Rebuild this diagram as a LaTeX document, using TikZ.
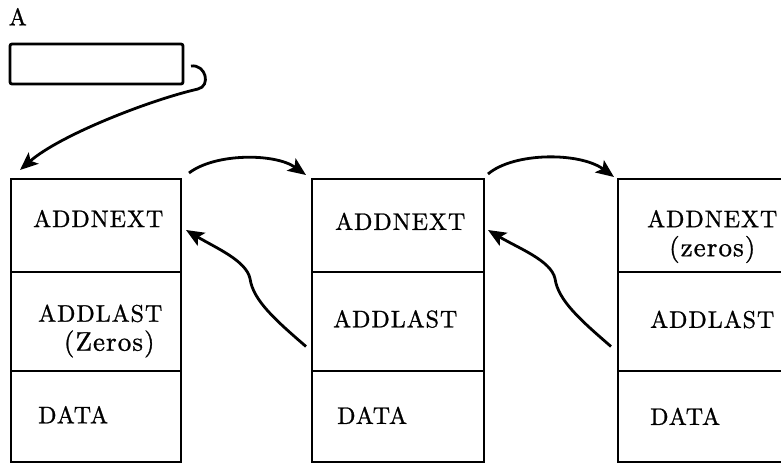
\documentclass[tikz,border=0pt]{standalone}
\usepackage{fontspec}
\newfontfamily\lblfont{lmroman10-regular}[Extension=.otf,LetterSpace=4,FakeBold=1]
\newcommand\parnote[1]{{\fontsize{27}{29}\selectfont #1}}
\usetikzlibrary{arrows.meta,calc}
\begin{document}
\begin{tikzpicture}[x=1pt,y=-1pt,
  ln/.style={line width=2.8pt},
  cell/.style={ln,draw,rectangle,anchor=north west,inner sep=0pt,outer sep=0pt},
  lbl/.style={font=\lblfont\fontsize{24}{29}\selectfont,
              inner sep=0pt,anchor=west,align=center},
  link/.style={ln,-{Stealth[length=18pt,width=15pt,inset=4pt]}}]
\clip (0,0) rectangle (781,463);

% pointer A
\node[lbl,anchor=center] (lblA) at (17.8,16.7) {A};
\node[cell,rounded corners=2pt,minimum width=173pt,minimum height=40pt] (ptr) at (10,44) {};

% record 1
\node[cell,minimum width=170pt,minimum height=93pt] (n1a) at (11,179) {};
\node[cell,minimum width=170pt,minimum height=99pt] (n1b) at (11,272) {};
\node[cell,minimum width=170pt,minimum height=91pt] (n1c) at (11,371) {};
% record 2
\node[cell,minimum width=172pt,minimum height=93pt] (n2a) at (312,179) {};
\node[cell,minimum width=172pt,minimum height=99pt] (n2b) at (312,272) {};
\node[cell,minimum width=172pt,minimum height=91pt] (n2c) at (312,371) {};
% record 3
\node[cell,minimum width=180pt,minimum height=93pt] (n3a) at (618,179) {};
\node[cell,minimum width=180pt,minimum height=99pt] (n3b) at (618,272) {};
\node[cell,minimum width=180pt,minimum height=91pt] (n3c) at (618,371) {};

% field names
\node[lbl] (t1a) at (33,218.5) {ADDNEXT};
\node[lbl] (t1b) at (38,331) {ADDLAST\\\hspace*{18pt}\parnote{(Zeros)}};
\node[lbl] (t1c) at (38,414.7) {DATA};
\node[lbl] (t2a) at (335,221.3) {ADDNEXT};
\node[lbl] (t2b) at (333,319) {ADDLAST};
\node[lbl] (t2c) at (337,415.3) {DATA};
\node[lbl] (t3a) at (647,236.5) {ADDNEXT\\\parnote{(zeros)}};
\node[lbl] (t3b) at (650,319.5) {ADDLAST};
\node[lbl] (t3c) at (650,416.3) {DATA};

% pointer to first record
\coordinate (ps) at ($(ptr.east)+(8,2)$);
\coordinate (pt) at ($(n1a.north west)+(9,-9)$);
\draw[link] (ps) .. controls +(15,-2) and +(13,-3) .. ($(ps)+(7,23)$)
  .. controls +(-48,11) and +(40,-35) .. (pt);

% forward links
\coordinate (f1s) at ($(n1a.north east)+(8,-6)$);
\coordinate (f1t) at ($(n2a.north west)+(-6,-4)$);
\draw[link] (f1s) .. controls +(26,-20) and +(-31,-22) .. (f1t);
\coordinate (f2s) at ($(n2a.north east)+(4,-5)$);
\coordinate (f2t) at ($(n3a.north west)+(-4,-2)$);
\draw[link] (f2s) .. controls +(26,-22) and +(-34,-25) .. (f2t);

% backward links
\coordinate (b2s) at ($(n2b.west)+(-6,25)$);
\coordinate (b1t) at ($(n1a.east)+(5,4.5)$);
\draw[link] (b2s) .. controls +(-30,-26) and +(3,22) .. ($(b2s)+(-56,-68)$)
  .. controls +(-4,-18) and +(30,18) .. (b1t);
\coordinate (b3s) at ($(n3b.west)+(-7,25)$);
\coordinate (b2t) at ($(n2a.east)+(4,4.5)$);
\draw[link] (b3s) .. controls +(-30,-26) and +(3,22) .. ($(b3s)+(-56,-68)$)
  .. controls +(-4,-18) and +(30,18) .. (b2t);
\end{tikzpicture}
\end{document}
